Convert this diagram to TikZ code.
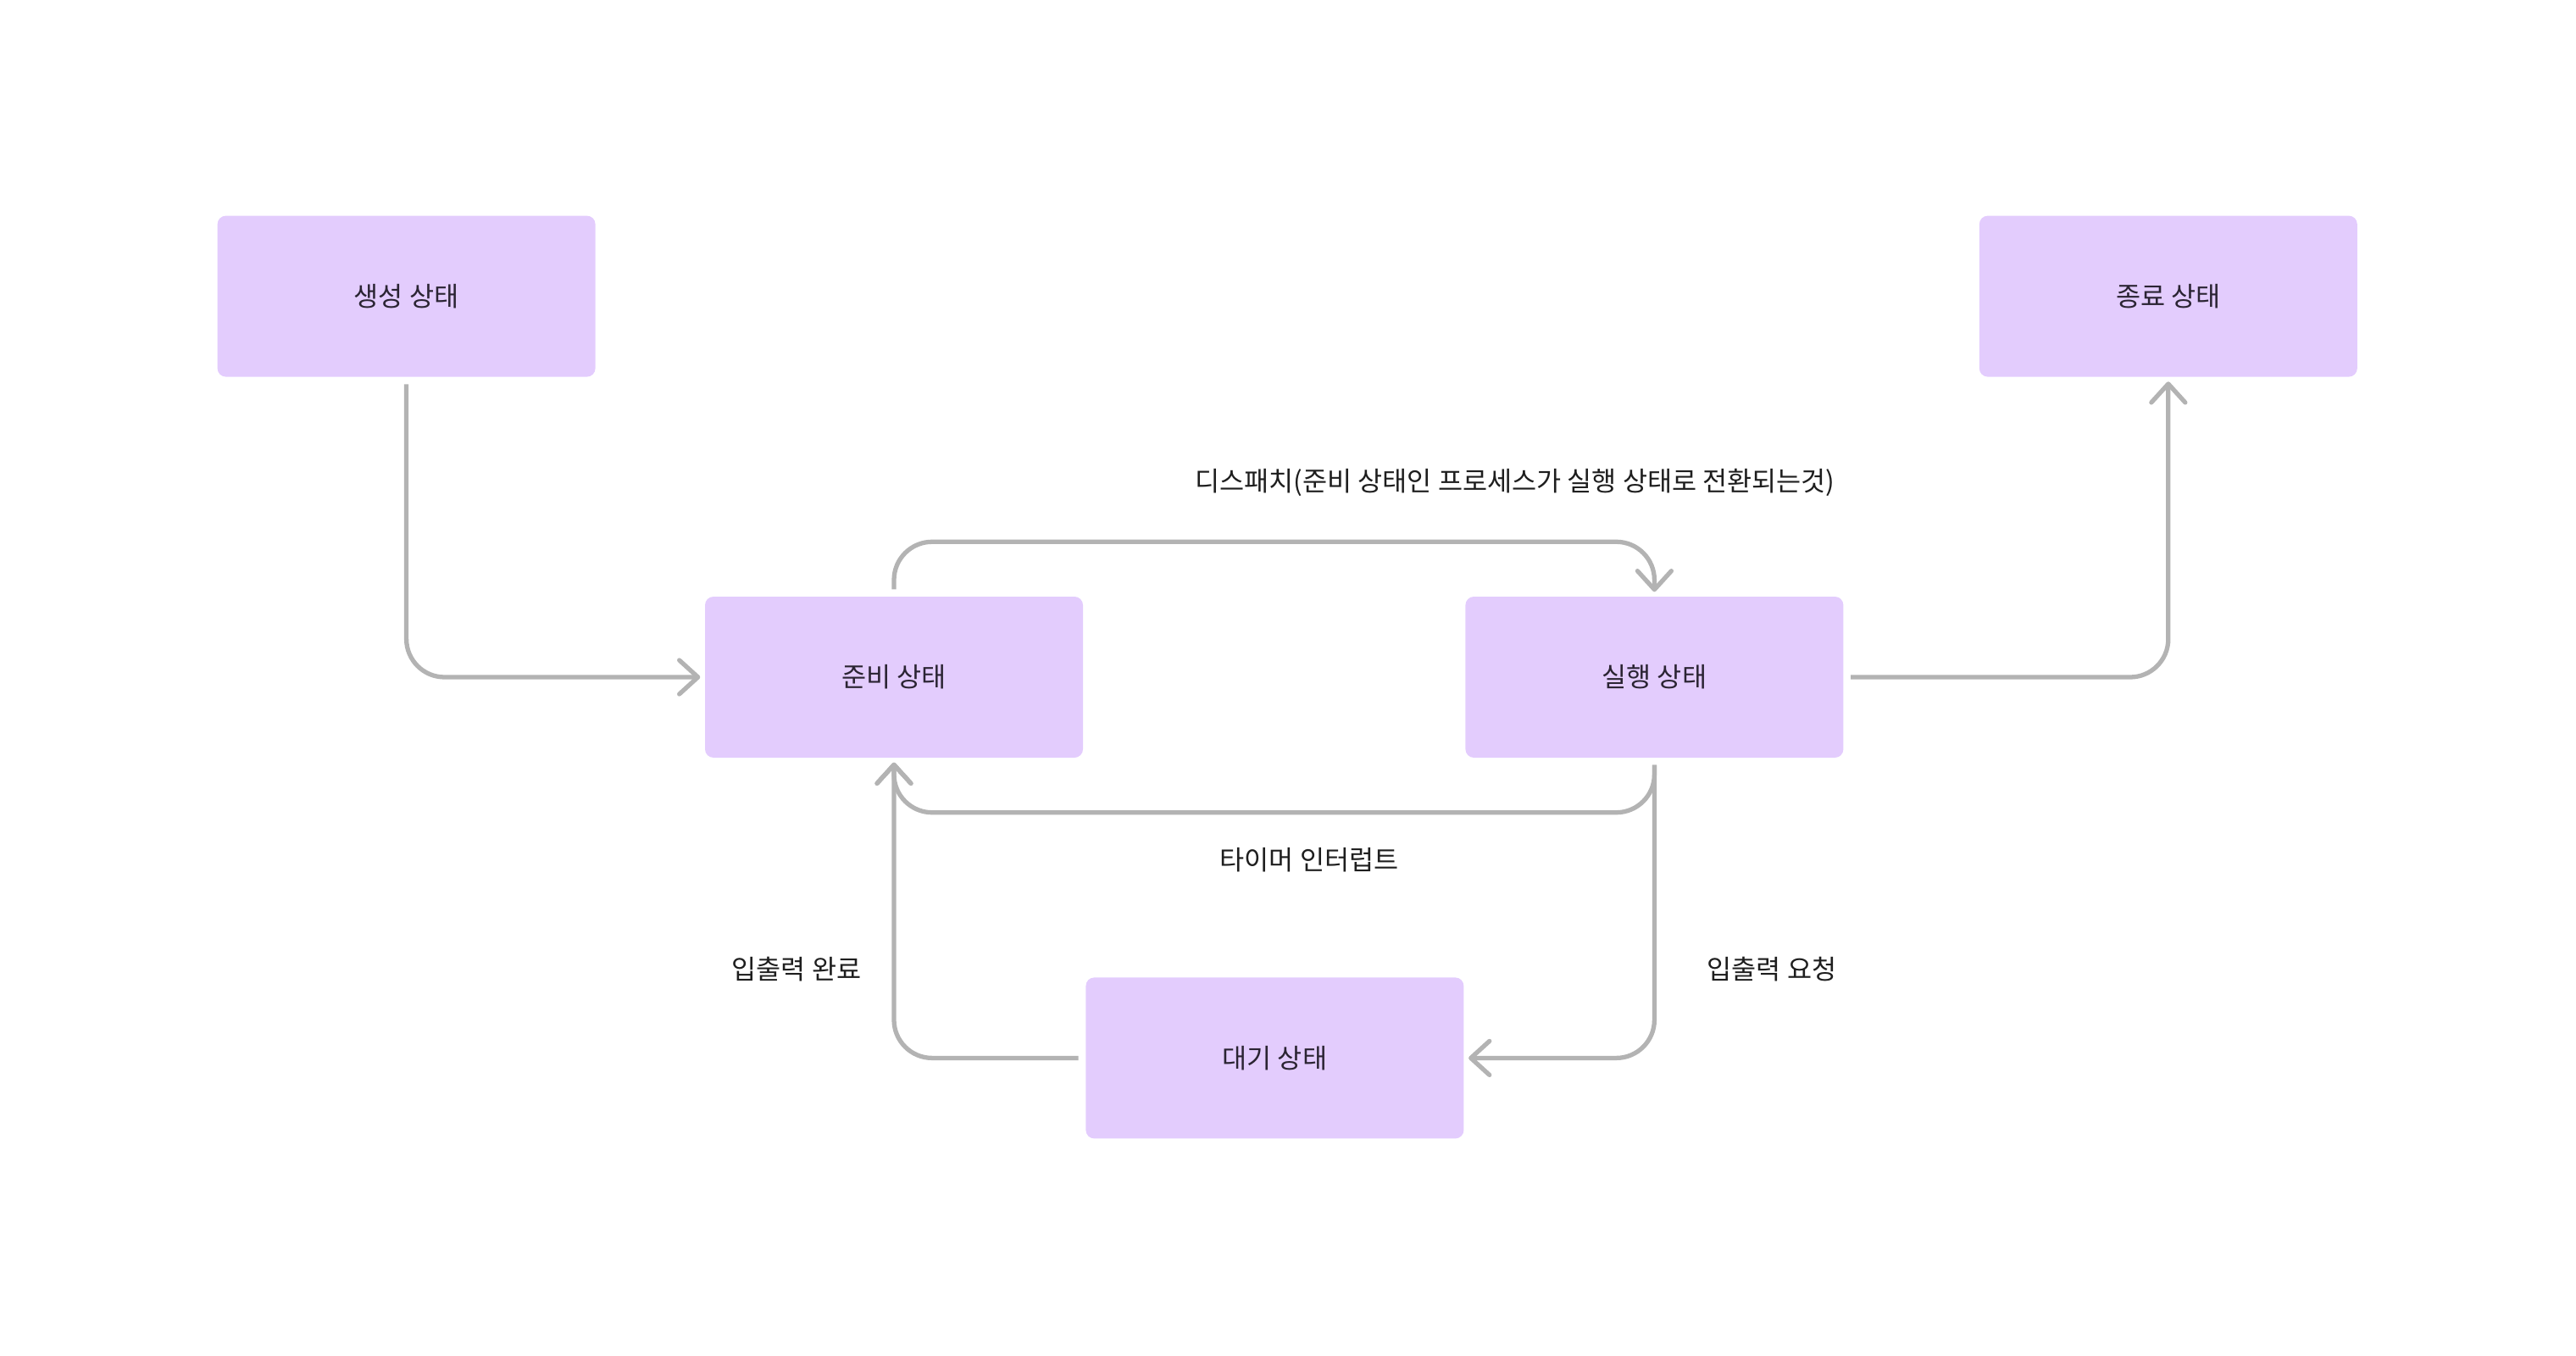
\documentclass[tikz,border=0pt]{standalone}
\usepackage{fontspec}
\setmainfont{Noto Sans CJK KR}
\usepackage{xcolor}
\usepackage{tikz}
\usetikzlibrary{arrows.meta, positioning, calc}
\definecolor{statefill}{HTML}{E3CCFD}
\definecolor{statetext}{HTML}{2B2433}
\definecolor{linegray}{HTML}{B3B3B3}
\definecolor{labeltext}{HTML}{1E1E1E}

\begin{document}
\begin{tikzpicture}[node distance=2.58cm, font=\fontsize{9pt}{10pt}\selectfont,
    state/.style={rectangle, fill=statefill, rounded corners=0.1cm, minimum width=4.46cm, minimum height=1.9cm, text=statetext, inner sep=0pt},
    flow/.style={draw=linegray, line width=1.5pt, rounded corners=0.45cm, shorten <=0.08cm, shorten >=0.05cm, -{Straight Barb[length=2.2mm, width=4mm, round]}},
    lbl/.style={text=labeltext, inner sep=0pt}]
    \useasboundingbox (0,0) rectangle (30.4,-16);
    \node (ready) [state] at (10.55,-7.99) {준비 상태};
    \node (running) [state, right=4.5cm of ready] {실행 상태};
    \node (waiting) [state, below right=2.58cm and 0.02cm of ready] {대기 상태};
    \node (new) [state, above left=2.58cm and 1.28cm of ready] {생성 상태};
    \node (exit) [state, above right=2.58cm and 1.59cm of running] {종료 상태};

    \node (dispatch) [lbl] at (17.88,-5.69) {디스패치(준비 상태인 프로세스가 실행 상태로 전환되는것)};
    \node (timer) [lbl] at (15.45,-10.15) {타이머 인터럽트};
    \node (iodone) [lbl] at (9.40,-11.44) {입출력 완료};
    \node (ioreq) [lbl] at (20.91,-11.44) {입출력 요청};

    \draw [flow] (new.south) |- (ready.west);
    \draw [flow] (ready.north) -- ++(0,0.64) -| (running.north);
    \draw [flow] (running.south) -- ++(0,-0.64) -| (ready.south);
    \draw [flow] (running.south) |- (waiting.east);
    \draw [flow] (waiting.west) -| (ready.south);
    \draw [flow] (running.east) -| (exit.south);
\end{tikzpicture}
\end{document}
